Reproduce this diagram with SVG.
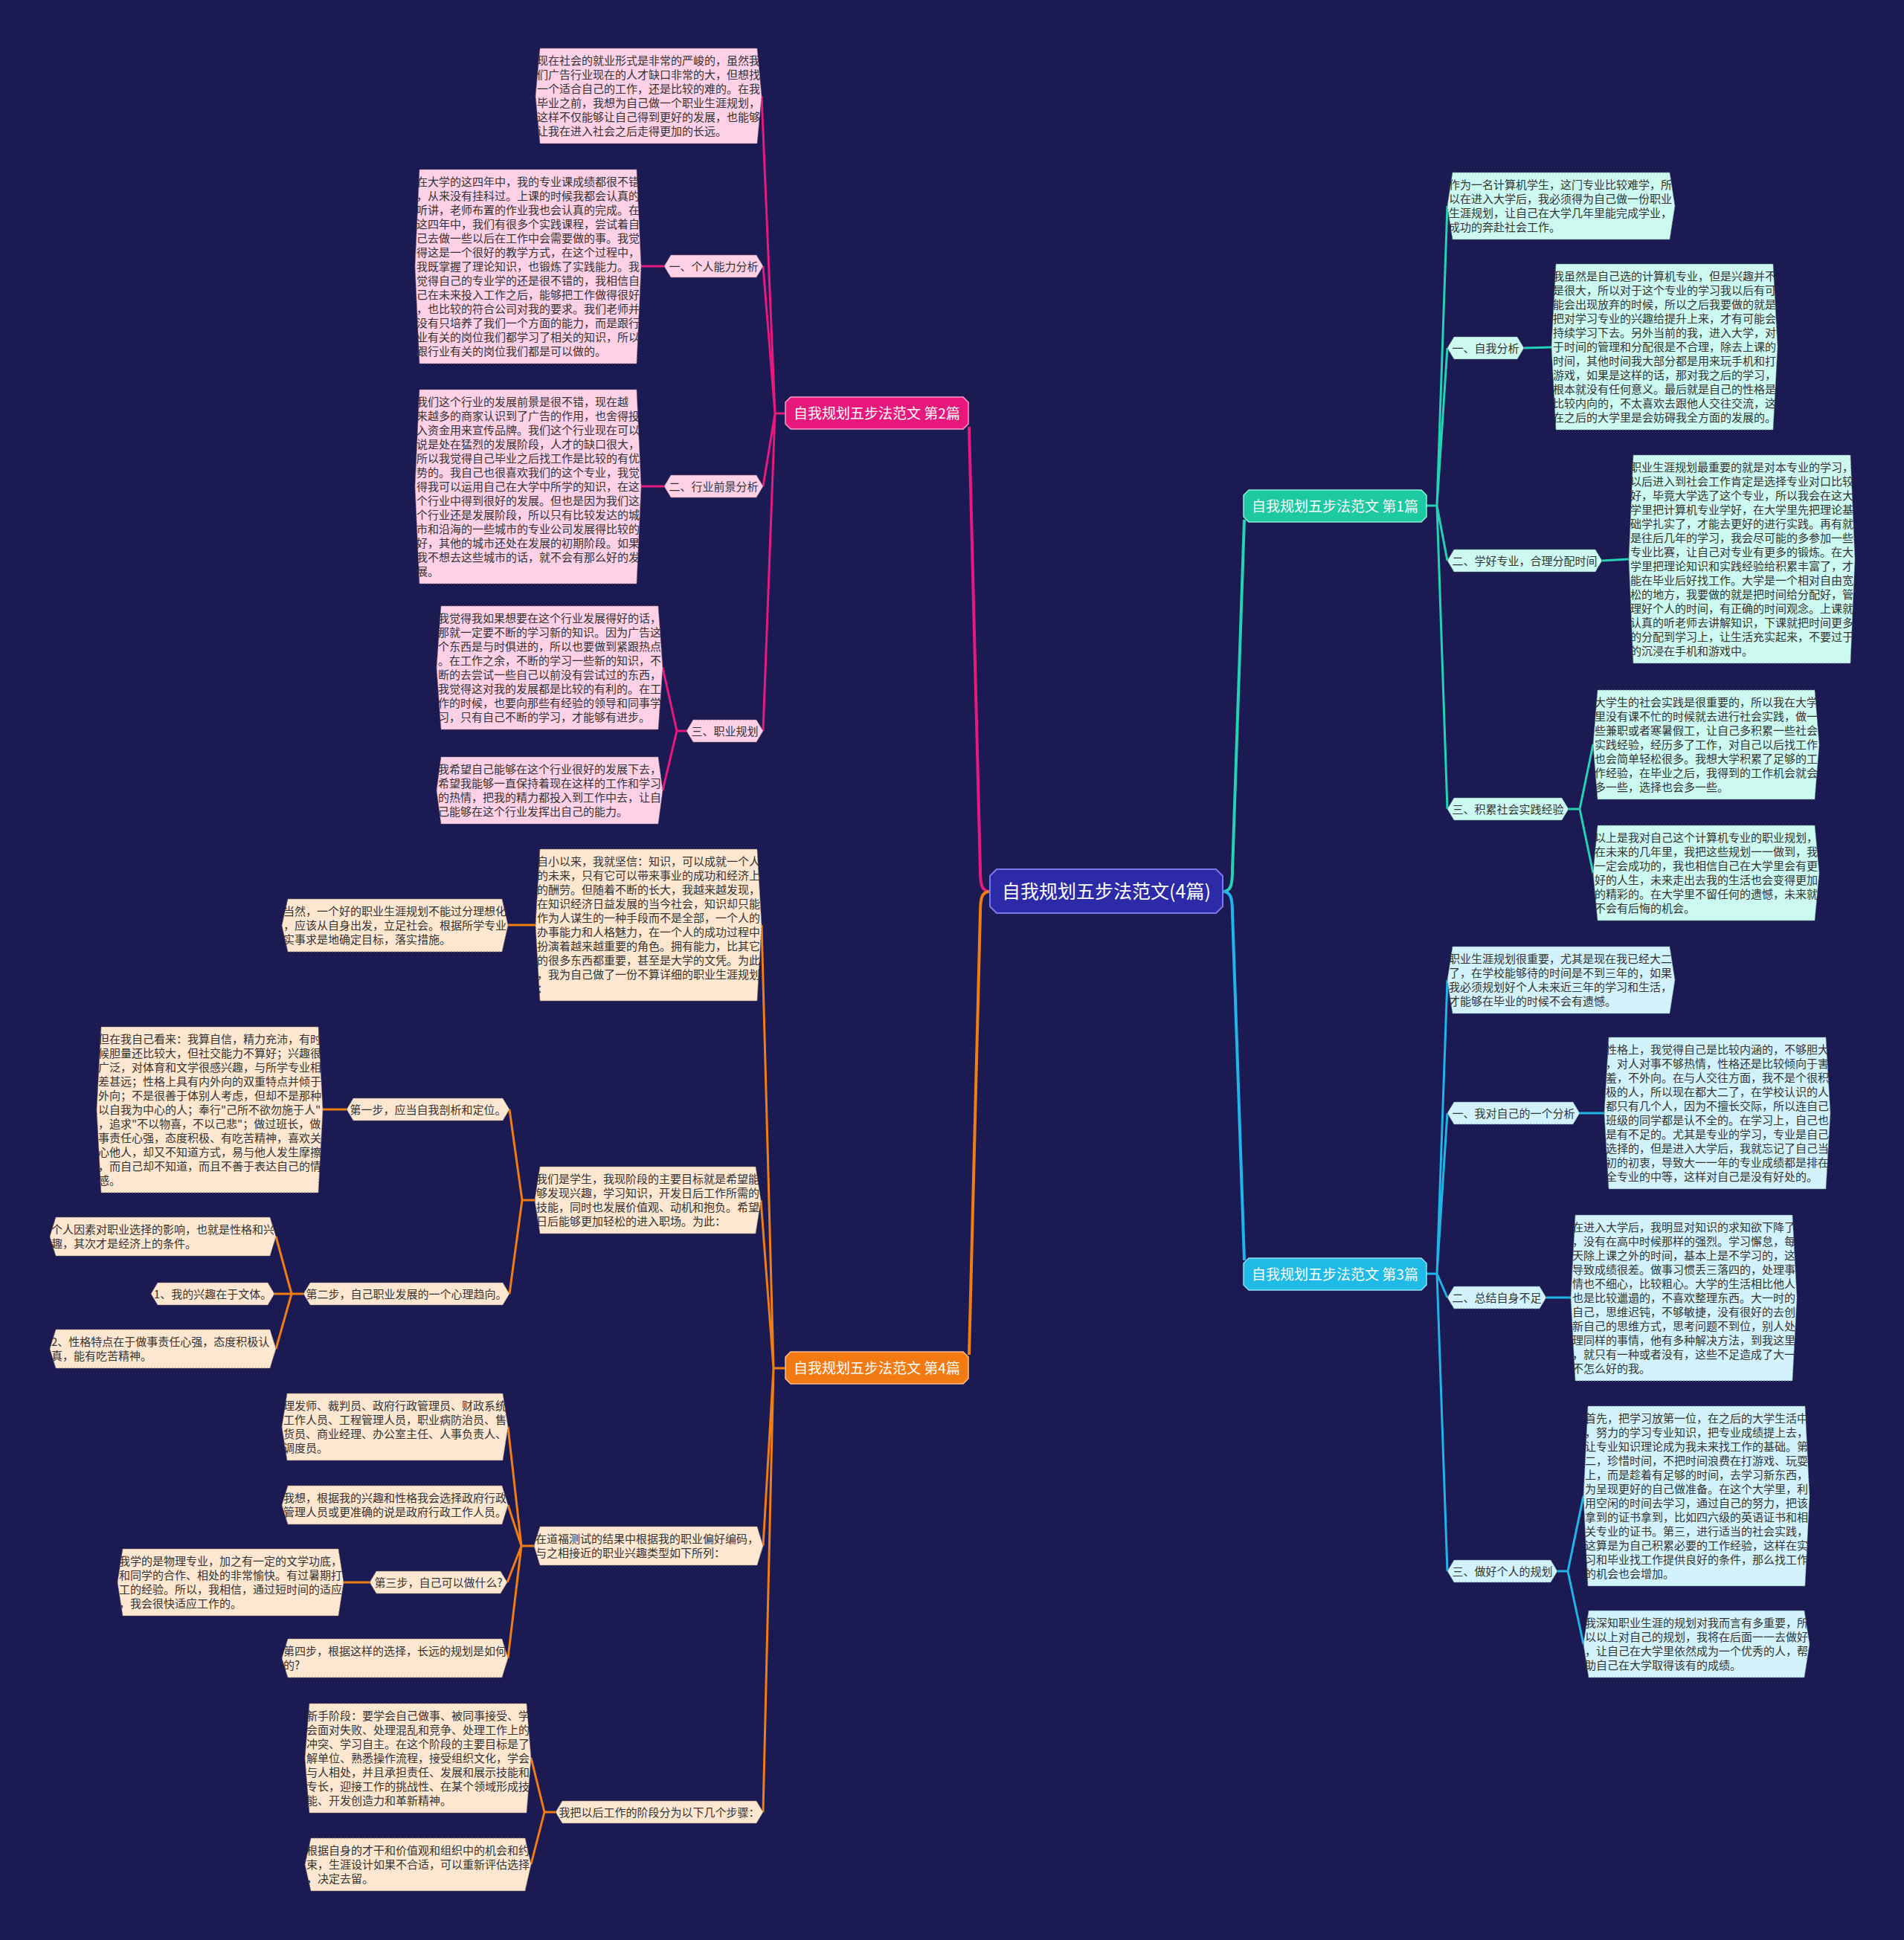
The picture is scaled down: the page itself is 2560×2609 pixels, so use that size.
<svg xmlns="http://www.w3.org/2000/svg" width="2560" height="2609" viewBox="0 0 2560 2609">
<style>
.t{font-family:"Noto Sans CJK SC","Noto Sans",sans-serif;font-size:15px;fill:#333333}
.lc{text-anchor:middle}
.bt{font-family:"Noto Sans CJK SC","Noto Sans",sans-serif;font-size:19px;fill:#ffffff;text-anchor:middle}
.rt{font-family:"Noto Sans CJK SC","Noto Sans",sans-serif;font-size:25px;fill:#ffffff;text-anchor:middle}
.lp{fill:#ffd1e6;stroke:#8a6a78;stroke-width:1;stroke-dasharray:2 2}
.lo{fill:#fee7d0;stroke:#8a7460;stroke-width:1;stroke-dasharray:2 2}
.lt{fill:#cdfaf0;stroke:#5f8a80;stroke-width:1;stroke-dasharray:2 2}
.lcy{fill:#d3f3fc;stroke:#5f8290;stroke-width:1;stroke-dasharray:2 2}
.cp{fill:none;stroke:#e5197e;stroke-width:3;stroke-linejoin:round}
.co{fill:none;stroke:#f07d14;stroke-width:3;stroke-linejoin:round}
.ct{fill:none;stroke:#24d2b5;stroke-width:3;stroke-linejoin:round}
.cc{fill:none;stroke:#1fb5e8;stroke-width:3;stroke-linejoin:round}
</style>
<rect x="0" y="0" width="2560" height="2609" fill="#1b1a52"/>

<g id="connectors">
<path class="cp" d="M1331,1199 C1320,1199 1318,1190 1318,1170 L1303,574" style="stroke-width:4"/>
<path class="co" d="M1331,1199 C1320,1199 1318,1208 1318,1228 L1303,1822" style="stroke-width:4"/>
<path class="ct" d="M1644,1199 C1655,1199 1657,1190 1657,1170 L1673,699" style="stroke-width:4"/>
<path class="cc" d="M1644,1199 C1655,1199 1657,1208 1657,1228 L1673,1695" style="stroke-width:4"/>

<path class="cp" d="M1056,556 L1042,556 L1024,129 M1042,556 L1026,358 M1042,556 L1026,654 M1042,556 L1026,983"/>
<path class="cp" d="M893,358 L862,358 M893,654 L862,654 M923,983 L910,983 L891,898 M910,983 L891,1063"/>

<path class="co" d="M1056,1840 L1040,1840 L1024,1244 M1040,1840 L1023,1614 M1040,1840 L1026,2079 M1040,1840 L1026,2437"/>
<path class="co" d="M720,1244 L683,1244 M719,1614 L702,1614 L685,1492 M702,1614 L685,1740 M466,1492 L434,1492"/>
<path class="co" d="M408,1740 L392,1740 L371,1663 M392,1740 L369,1740 M392,1740 L371,1814"/>
<path class="co" d="M718,2079 L701,2079 L683,1919 M701,2079 L683,2024 M701,2079 L682,2128 M701,2079 L683,2230 M497,2128 L462,2128"/>
<path class="co" d="M747,2437 L732,2437 L714,2364 M732,2437 L714,2507"/>

<path class="ct" d="M1918,680 L1932,680 L1946,277 M1932,680 L1946,468 M1932,680 L1946,754 M1932,680 L1946,1088"/>
<path class="ct" d="M2049,468 L2086,467 M2154,754 L2190,752 M2109,1088 L2124,1088 L2142,1001 M2124,1088 L2142,1174"/>

<path class="cc" d="M1918,1713 L1932,1713 L1946,1318 M1932,1713 L1946,1497 M1932,1713 L1946,1745 M1932,1713 L1946,2113"/>
<path class="cc" d="M2124,1497 L2157,1497 M2079,1745 L2112,1745 M2094,2113 L2108,2113 L2129,2012 M2108,2113 L2129,2211"/>
</g>

<g id="root">
<polygon points="1340,1169 1635,1169 1644,1178 1644,1219 1635,1228 1340,1228 1331,1219 1331,1178" fill="#2c2aa6" stroke="#7a78e6" stroke-width="2"/>
<text class="rt" x="1487.5" y="1208">自我规划五步法范文(4篇)</text>
</g>

<g id="b2">
<polygon points="1063,534 1295,534 1302,541 1302,570 1295,577 1063,577 1056,570 1056,541" fill="#e8177c" stroke="#ff9ccb" stroke-width="1.5"/>
<text class="bt" x="1179" y="562.5">自我规划五步法范文 第2篇</text>
</g>
<g id="b4">
<polygon points="1063,1818 1295,1818 1302,1825 1302,1854 1295,1861 1063,1861 1056,1854 1056,1825" fill="#f37a12" stroke="#ffc08a" stroke-width="1.5"/>
<text class="bt" x="1179" y="1846.5">自我规划五步法范文 第4篇</text>
</g>
<g id="b1">
<polygon points="1679,659 1911,659 1918,666 1918,695 1911,702 1679,702 1672,695 1672,666" fill="#1cc9a0" stroke="#8af0d6" stroke-width="1.5"/>
<text class="bt" x="1795" y="687.5">自我规划五步法范文 第1篇</text>
</g>
<g id="b3">
<polygon points="1679,1692 1911,1692 1918,1699 1918,1728 1911,1735 1679,1735 1672,1728 1672,1699" fill="#1fbbe6" stroke="#8fdff5" stroke-width="1.5"/>
<text class="bt" x="1795" y="1720.5">自我规划五步法范文 第3篇</text>
</g>

<!-- pink branch -->
<g id="p0">
<polygon class="lp" points="720,129 726,65 1018,65 1024,129 1018,193 726,193"/>
<text class="t" x="722" y="87"><tspan x="722">现在社会的就业形式是非常的严峻的，虽然我</tspan><tspan x="722" dy="19">们广告行业现在的人才缺口非常的大，但想找</tspan><tspan x="722" dy="19">一个适合自己的工作，还是比较的难的。在我</tspan><tspan x="722" dy="19">毕业之前，我想为自己做一个职业生涯规划，</tspan><tspan x="722" dy="19">这样不仅能够让自己得到更好的发展，也能够</tspan><tspan x="722" dy="19">让我在进入社会之后走得更加的长远。</tspan></text>
</g>
<g id="p1l">
<polygon class="lp" points="893,358 902,343 1017,343 1026,358 1017,373 902,373"/>
<text class="t lc" x="959.5" y="363.5">一、个人能力分析</text>
</g>
<g id="p1">
<polygon class="lp" points="558,358.5 564,228 856,228 862,358.5 856,489 564,489"/>
<text class="t" x="560" y="250"><tspan x="560">在大学的这四年中，我的专业课成绩都很不错</tspan><tspan x="560" dy="19">，从来没有挂科过。上课的时候我都会认真的</tspan><tspan x="560" dy="19">听讲，老师布置的作业我也会认真的完成。在</tspan><tspan x="560" dy="19">这四年中，我们有很多个实践课程，尝试着自</tspan><tspan x="560" dy="19">己去做一些以后在工作中会需要做的事。我觉</tspan><tspan x="560" dy="19">得这是一个很好的教学方式，在这个过程中，</tspan><tspan x="560" dy="19">我既掌握了理论知识，也锻炼了实践能力。我</tspan><tspan x="560" dy="19">觉得自己的专业学的还是很不错的，我相信自</tspan><tspan x="560" dy="19">己在未来投入工作之后，能够把工作做得很好</tspan><tspan x="560" dy="19">，也比较的符合公司对我的要求。我们老师并</tspan><tspan x="560" dy="19">没有只培养了我们一个方面的能力，而是跟行</tspan><tspan x="560" dy="19">业有关的岗位我们都学习了相关的知识，所以</tspan><tspan x="560" dy="19">跟行业有关的岗位我们都是可以做的。</tspan></text>
</g>
<g id="p2l">
<polygon class="lp" points="893,654 902,639 1017,639 1026,654 1017,669 902,669"/>
<text class="t lc" x="959.5" y="659.5">二、行业前景分析</text>
</g>
<g id="p2">
<polygon class="lp" points="558,654.5 564,524 856,524 862,654.5 856,785 564,785"/>
<text class="t" x="560" y="546"><tspan x="560">我们这个行业的发展前景是很不错，现在越</tspan><tspan x="560" dy="19">来越多的商家认识到了广告的作用，也舍得投</tspan><tspan x="560" dy="19">入资金用来宣传品牌。我们这个行业现在可以</tspan><tspan x="560" dy="19">说是处在猛烈的发展阶段，人才的缺口很大，</tspan><tspan x="560" dy="19">所以我觉得自己毕业之后找工作是比较的有优</tspan><tspan x="560" dy="19">势的。我自己也很喜欢我们的这个专业，我觉</tspan><tspan x="560" dy="19">得我可以运用自己在大学中所学的知识，在这</tspan><tspan x="560" dy="19">个行业中得到很好的发展。但也是因为我们这</tspan><tspan x="560" dy="19">个行业还是发展阶段，所以只有比较发达的城</tspan><tspan x="560" dy="19">市和沿海的一些城市的专业公司发展得比较的</tspan><tspan x="560" dy="19">好，其他的城市还处在发展的初期阶段。如果</tspan><tspan x="560" dy="19">我不想去这些城市的话，就不会有那么好的发</tspan><tspan x="560" dy="19">展。</tspan></text>
</g>
<g id="p3l">
<polygon class="lp" points="923,983 932,968 1017,968 1026,983 1017,998 932,998"/>
<text class="t lc" x="974.5" y="988.5">三、职业规划</text>
</g>
<g id="p3a">
<polygon class="lp" points="587,898 593,815 885,815 891,898 885,981 593,981"/>
<text class="t" x="589" y="837"><tspan x="589">我觉得我如果想要在这个行业发展得好的话，</tspan><tspan x="589" dy="19">那就一定要不断的学习新的知识。因为广告这</tspan><tspan x="589" dy="19">个东西是与时俱进的，所以也要做到紧跟热点</tspan><tspan x="589" dy="19">。在工作之余，不断的学习一些新的知识，不</tspan><tspan x="589" dy="19">断的去尝试一些自己以前没有尝试过的东西，</tspan><tspan x="589" dy="19">我觉得这对我的发展都是比较的有利的。在工</tspan><tspan x="589" dy="19">作的时候，也要向那些有经验的领导和同事学</tspan><tspan x="589" dy="19">习，只有自己不断的学习，才能够有进步。</tspan></text>
</g>
<g id="p3b">
<polygon class="lp" points="587,1063 593,1018 885,1018 891,1063 885,1108 593,1108"/>
<text class="t" x="589" y="1040"><tspan x="589">我希望自己能够在这个行业很好的发展下去，</tspan><tspan x="589" dy="19">希望我能够一直保持着现在这样的工作和学习</tspan><tspan x="589" dy="19">的热情，把我的精力都投入到工作中去，让自</tspan><tspan x="589" dy="19">己能够在这个行业发挥出自己的能力。</tspan></text>
</g>

<!-- orange branch -->
<g id="o1">
<polygon class="lo" points="720,1244 726,1142 1018,1142 1024,1244 1018,1346 726,1346"/>
<text class="t" x="722" y="1164"><tspan x="722">自小以来，我就坚信：知识，可以成就一个人</tspan><tspan x="722" dy="19">的未来，只有它可以带来事业的成功和经济上</tspan><tspan x="722" dy="19">的酬劳。但随着不断的长大，我越来越发现，</tspan><tspan x="722" dy="19">在知识经济日益发展的当今社会，知识却只能</tspan><tspan x="722" dy="19">作为人谋生的一种手段而不是全部，一个人的</tspan><tspan x="722" dy="19">办事能力和人格魅力，在一个人的成功过程中</tspan><tspan x="722" dy="19">扮演着越来越重要的角色。拥有能力，比其它</tspan><tspan x="722" dy="19">的很多东西都重要，甚至是大学的文凭。为此</tspan><tspan x="722" dy="19">，我为自己做了一份不算详细的职业生涯规划</tspan><tspan x="722" dy="19">：</tspan></text>
</g>
<g id="o1c">
<polygon class="lo" points="379,1244.5 387,1209 675,1209 683,1244.5 675,1280 387,1280"/>
<text class="t" x="381" y="1231"><tspan x="381">当然，一个好的职业生涯规划不能过分理想化</tspan><tspan x="381" dy="19">，应该从自身出发，立足社会。根据所学专业</tspan><tspan x="381" dy="19">实事求是地确定目标，落实措施。</tspan></text>
</g>
<g id="o2">
<polygon class="lo" points="719,1614 726,1569 1016,1569 1023,1614 1016,1659 726,1659"/>
<text class="t" x="721" y="1591"><tspan x="721">我们是学生，我现阶段的主要目标就是希望能</tspan><tspan x="721" dy="19">够发现兴趣，学习知识，开发日后工作所需的</tspan><tspan x="721" dy="19">技能，同时也发展价值观、动机和抱负。希望</tspan><tspan x="721" dy="19">日后能够更加轻松的进入职场。为此：</tspan></text>
</g>
<g id="s1l">
<polygon class="lo" points="466,1492 475,1477 676,1477 685,1492 676,1507 475,1507"/>
<text class="t lc" x="575.5" y="1497.5">第一步，应当自我剖析和定位。</text>
</g>
<g id="s1b">
<polygon class="lo" points="130,1492.5 136,1381 428,1381 434,1492.5 428,1604 136,1604"/>
<text class="t" x="132" y="1403"><tspan x="132">但在我自己看来：我算自信，精力充沛，有时</tspan><tspan x="132" dy="19">候胆量还比较大，但社交能力不算好；兴趣很</tspan><tspan x="132" dy="19">广泛，对体育和文学很感兴趣，与所学专业相</tspan><tspan x="132" dy="19">差甚远；性格上具有内外向的双重特点并倾于</tspan><tspan x="132" dy="19">外向；不是很善于体别人考虑，但却不是那种</tspan><tspan x="132" dy="19">以自我为中心的人；奉行"己所不欲勿施于人"</tspan><tspan x="132" dy="19">，追求"不以物喜，不以己悲"；做过班长，做</tspan><tspan x="132" dy="19">事责任心强，态度积极、有吃苦精神，喜欢关</tspan><tspan x="132" dy="19">心他人，却又不知道方式，易与他人发生摩擦</tspan><tspan x="132" dy="19">，而自己却不知道，而且不善于表达自己的情</tspan><tspan x="132" dy="19">感。</tspan></text>
</g>
<g id="s2l">
<polygon class="lo" points="408,1740 417,1725 676,1725 685,1740 676,1755 417,1755"/>
<text class="t lc" x="546.5" y="1745.5">第二步，自己职业发展的一个心理趋向。</text>
</g>
<g id="s2a">
<polygon class="lo" points="67,1663 75,1637 363,1637 371,1663 363,1689 75,1689"/>
<text class="t" x="69" y="1659"><tspan x="69">个人因素对职业选择的影响，也就是性格和兴</tspan><tspan x="69" dy="19">趣，其次才是经济上的条件。</tspan></text>
</g>
<g id="s2b">
<polygon class="lo" points="203,1740 212,1725 360,1725 369,1740 360,1755 212,1755"/>
<text class="t lc" x="286" y="1745.5">1、我的兴趣在于文体。</text>
</g>
<g id="s2c">
<polygon class="lo" points="67,1814 75,1788 363,1788 371,1814 363,1840 75,1840"/>
<text class="t" x="69" y="1810"><tspan x="69">2、性格特点在于做事责任心强，态度积极认</tspan><tspan x="69" dy="19">真，能有吃苦精神。</tspan></text>
</g>
<g id="o3l">
<polygon class="lo" points="718,2079 726,2053 1018,2053 1026,2079 1018,2105 726,2105"/>
<text class="t" x="720" y="2075"><tspan x="720">在道福测试的结果中根据我的职业偏好编码，</tspan><tspan x="720" dy="19">与之相接近的职业兴趣类型如下所列：</tspan></text>
</g>
<g id="o3a">
<polygon class="lo" points="379,1919 386,1874 676,1874 683,1919 676,1964 386,1964"/>
<text class="t" x="381" y="1896"><tspan x="381">理发师、裁判员、政府行政管理员、财政系统</tspan><tspan x="381" dy="19">工作人员、工程管理人员，职业病防治员、售</tspan><tspan x="381" dy="19">货员、商业经理、办公室主任、人事负责人、</tspan><tspan x="381" dy="19">调度员。</tspan></text>
</g>
<g id="o3b">
<polygon class="lo" points="379,2024 387,1998 675,1998 683,2024 675,2050 387,2050"/>
<text class="t" x="381" y="2020"><tspan x="381">我想，根据我的兴趣和性格我会选择政府行政</tspan><tspan x="381" dy="19">管理人员或更准确的说是政府行政工作人员。</tspan></text>
</g>
<g id="s3l">
<polygon class="lo" points="497,2128 506,2113 673,2113 682,2128 673,2143 506,2143"/>
<text class="t lc" x="589.5" y="2133.5">第三步，自己可以做什么?</text>
</g>
<g id="s3b">
<polygon class="lo" points="158,2128 165,2083 455,2083 462,2128 455,2173 165,2173"/>
<text class="t" x="160" y="2105"><tspan x="160">我学的是物理专业，加之有一定的文学功底，</tspan><tspan x="160" dy="19">和同学的合作、相处的非常愉快。有过暑期打</tspan><tspan x="160" dy="19">工的经验。所以，我相信，通过短时间的适应</tspan><tspan x="160" dy="19">，我会很快适应工作的。</tspan></text>
</g>
<g id="s4">
<polygon class="lo" points="379,2230 387,2204 675,2204 683,2230 675,2256 387,2256"/>
<text class="t" x="381" y="2226"><tspan x="381">第四步，根据这样的选择，长远的规划是如何</tspan><tspan x="381" dy="19">的?</tspan></text>
</g>
<g id="o4l">
<polygon class="lo" points="747,2437 756,2422 1017,2422 1026,2437 1017,2452 756,2452"/>
<text class="t lc" x="886.5" y="2442.5">我把以后工作的阶段分为以下几个步骤：</text>
</g>
<g id="o4a">
<polygon class="lo" points="410,2364.5 416,2291 708,2291 714,2364.5 708,2438 416,2438"/>
<text class="t" x="412" y="2313"><tspan x="412">新手阶段：要学会自己做事、被同事接受、学</tspan><tspan x="412" dy="19">会面对失败、处理混乱和竞争、处理工作上的</tspan><tspan x="412" dy="19">冲突、学习自主。在这个阶段的主要目标是了</tspan><tspan x="412" dy="19">解单位、熟悉操作流程，接受组织文化，学会</tspan><tspan x="412" dy="19">与人相处，并且承担责任、发展和展示技能和</tspan><tspan x="412" dy="19">专长，迎接工作的挑战性、在某个领域形成技</tspan><tspan x="412" dy="19">能、开发创造力和革新精神。</tspan></text>
</g>
<g id="o4b">
<polygon class="lo" points="410,2507.5 418,2472 706,2472 714,2507.5 706,2543 418,2543"/>
<text class="t" x="412" y="2494"><tspan x="412">根据自身的才干和价值观和组织中的机会和约</tspan><tspan x="412" dy="19">束，生涯设计如果不合适，可以重新评估选择</tspan><tspan x="412" dy="19">，决定去留。</tspan></text>
</g>

<!-- teal branch -->
<g id="t0">
<polygon class="lt" points="1946,277 1953,232 2245,232 2252,277 2245,322 1953,322"/>
<text class="t" x="1948" y="254"><tspan x="1948">作为一名计算机学生，这门专业比较难学，所</tspan><tspan x="1948" dy="19">以在进入大学后，我必须得为自己做一份职业</tspan><tspan x="1948" dy="19">生涯规划，让自己在大学几年里能完成学业，</tspan><tspan x="1948" dy="19">成功的奔赴社会工作。</tspan></text>
</g>
<g id="t1l">
<polygon class="lt" points="1946,468 1955,453 2040,453 2049,468 2040,483 1955,483"/>
<text class="t lc" x="1997.5" y="473.5">一、自我分析</text>
</g>
<g id="t1b">
<polygon class="lt" points="2086,466.5 2092,355 2384,355 2390,466.5 2384,578 2092,578"/>
<text class="t" x="2088" y="377"><tspan x="2088">我虽然是自己选的计算机专业，但是兴趣并不</tspan><tspan x="2088" dy="19">是很大，所以对于这个专业的学习我以后有可</tspan><tspan x="2088" dy="19">能会出现放弃的时候，所以之后我要做的就是</tspan><tspan x="2088" dy="19">把对学习专业的兴趣给提升上来，才有可能会</tspan><tspan x="2088" dy="19">持续学习下去。另外当前的我，进入大学，对</tspan><tspan x="2088" dy="19">于时间的管理和分配很是不合理，除去上课的</tspan><tspan x="2088" dy="19">时间，其他时间我大部分都是用来玩手机和打</tspan><tspan x="2088" dy="19">游戏，如果是这样的话，那对我之后的学习，</tspan><tspan x="2088" dy="19">根本就没有任何意义。最后就是自己的性格是</tspan><tspan x="2088" dy="19">比较内向的，不太喜欢去跟他人交往交流，这</tspan><tspan x="2088" dy="19">在之后的大学里是会妨碍我全方面的发展的。</tspan></text>
</g>
<g id="t2l">
<polygon class="lt" points="1946,754 1955,739 2145,739 2154,754 2145,769 1955,769"/>
<text class="t lc" x="2050" y="759.5">二、学好专业，合理分配时间</text>
</g>
<g id="t2b">
<polygon class="lt" points="2190,752 2196,612 2488,612 2494,752 2488,892 2196,892"/>
<text class="t" x="2192" y="634"><tspan x="2192">职业生涯规划最重要的就是对本专业的学习，</tspan><tspan x="2192" dy="19">以后进入到社会工作肯定是选择专业对口比较</tspan><tspan x="2192" dy="19">好，毕竟大学选了这个专业，所以我会在这大</tspan><tspan x="2192" dy="19">学里把计算机专业学好，在大学里先把理论基</tspan><tspan x="2192" dy="19">础学扎实了，才能去更好的进行实践。再有就</tspan><tspan x="2192" dy="19">是往后几年的学习，我会尽可能的多参加一些</tspan><tspan x="2192" dy="19">专业比赛，让自己对专业有更多的锻炼。在大</tspan><tspan x="2192" dy="19">学里把理论知识和实践经验给积累丰富了，才</tspan><tspan x="2192" dy="19">能在毕业后好找工作。大学是一个相对自由宽</tspan><tspan x="2192" dy="19">松的地方，我要做的就是把时间给分配好，管</tspan><tspan x="2192" dy="19">理好个人的时间，有正确的时间观念。上课就</tspan><tspan x="2192" dy="19">认真的听老师去讲解知识，下课就把时间更多</tspan><tspan x="2192" dy="19">的分配到学习上，让生活充实起来，不要过于</tspan><tspan x="2192" dy="19">的沉浸在手机和游戏中。</tspan></text>
</g>
<g id="t3l">
<polygon class="lt" points="1946,1088 1955,1073 2100,1073 2109,1088 2100,1103 1955,1103"/>
<text class="t lc" x="2027.5" y="1093.5">三、积累社会实践经验</text>
</g>
<g id="t3a">
<polygon class="lt" points="2142,1001.5 2148,928 2440,928 2446,1001.5 2440,1075 2148,1075"/>
<text class="t" x="2144" y="950"><tspan x="2144">大学生的社会实践是很重要的，所以我在大学</tspan><tspan x="2144" dy="19">里没有课不忙的时候就去进行社会实践，做一</tspan><tspan x="2144" dy="19">些兼职或者寒暑假工，让自己多积累一些社会</tspan><tspan x="2144" dy="19">实践经验，经历多了工作，对自己以后找工作</tspan><tspan x="2144" dy="19">也会简单轻松很多。我想大学积累了足够的工</tspan><tspan x="2144" dy="19">作经验，在毕业之后，我得到的工作机会就会</tspan><tspan x="2144" dy="19">多一些，选择也会多一些。</tspan></text>
</g>
<g id="t3b">
<polygon class="lt" points="2142,1174 2148,1110 2440,1110 2446,1174 2440,1238 2148,1238"/>
<text class="t" x="2144" y="1132"><tspan x="2144">以上是我对自己这个计算机专业的职业规划，</tspan><tspan x="2144" dy="19">在未来的几年里，我把这些规划一一做到，我</tspan><tspan x="2144" dy="19">一定会成功的，我也相信自己在大学里会有更</tspan><tspan x="2144" dy="19">好的人生，未来走出去我的生活也会变得更加</tspan><tspan x="2144" dy="19">的精彩的。在大学里不留任何的遗憾，未来就</tspan><tspan x="2144" dy="19">不会有后悔的机会。</tspan></text>
</g>

<!-- cyan branch -->
<g id="c0">
<polygon class="lcy" points="1946,1318 1953,1273 2245,1273 2252,1318 2245,1363 1953,1363"/>
<text class="t" x="1948" y="1295"><tspan x="1948">职业生涯规划很重要，尤其是现在我已经大二</tspan><tspan x="1948" dy="19">了，在学校能够待的时间是不到三年的，如果</tspan><tspan x="1948" dy="19">我必须规划好个人未来近三年的学习和生活，</tspan><tspan x="1948" dy="19">才能够在毕业的时候不会有遗憾。</tspan></text>
</g>
<g id="c1l">
<polygon class="lcy" points="1946,1497 1955,1482 2115,1482 2124,1497 2115,1512 1955,1512"/>
<text class="t lc" x="2035" y="1502.5">一、我对自己的一个分析</text>
</g>
<g id="c1b">
<polygon class="lcy" points="2157,1497 2163,1395 2455,1395 2461,1497 2455,1599 2163,1599"/>
<text class="t" x="2159" y="1417"><tspan x="2159">性格上，我觉得自己是比较内涵的，不够胆大</tspan><tspan x="2159" dy="19">，对人对事不够热情，性格还是比较倾向于害</tspan><tspan x="2159" dy="19">羞，不外向。在与人交往方面，我不是个很积</tspan><tspan x="2159" dy="19">极的人，所以现在都大二了，在学校认识的人</tspan><tspan x="2159" dy="19">都只有几个人，因为不擅长交际，所以连自己</tspan><tspan x="2159" dy="19">班级的同学都是认不全的。在学习上，自己也</tspan><tspan x="2159" dy="19">是有不足的。尤其是专业的学习，专业是自己</tspan><tspan x="2159" dy="19">选择的，但是进入大学后，我就忘记了自己当</tspan><tspan x="2159" dy="19">初的初衷，导致大一一年的专业成绩都是排在</tspan><tspan x="2159" dy="19">全专业的中等，这样对自己是没有好处的。</tspan></text>
</g>
<g id="c2l">
<polygon class="lcy" points="1946,1745 1955,1730 2070,1730 2079,1745 2070,1760 1955,1760"/>
<text class="t lc" x="2012.5" y="1750.5">二、总结自身不足</text>
</g>
<g id="c2b">
<polygon class="lcy" points="2112,1745.5 2118,1634 2410,1634 2416,1745.5 2410,1857 2118,1857"/>
<text class="t" x="2114" y="1656"><tspan x="2114">在进入大学后，我明显对知识的求知欲下降了</tspan><tspan x="2114" dy="19">，没有在高中时候那样的强烈。学习懈怠，每</tspan><tspan x="2114" dy="19">天除上课之外的时间，基本上是不学习的，这</tspan><tspan x="2114" dy="19">导致成绩很差。做事习惯丢三落四的，处理事</tspan><tspan x="2114" dy="19">情也不细心，比较粗心。大学的生活相比他人</tspan><tspan x="2114" dy="19">也是比较邋遢的，不喜欢整理东西。大一时的</tspan><tspan x="2114" dy="19">自己，思维迟钝，不够敏捷，没有很好的去创</tspan><tspan x="2114" dy="19">新自己的思维方式，思考问题不到位，别人处</tspan><tspan x="2114" dy="19">理同样的事情，他有多种解决方法，到我这里</tspan><tspan x="2114" dy="19">，就只有一种或者没有，这些不足造成了大一</tspan><tspan x="2114" dy="19">不怎么好的我。</tspan></text>
</g>
<g id="c3l">
<polygon class="lcy" points="1946,2113 1955,2098 2085,2098 2094,2113 2085,2128 1955,2128"/>
<text class="t lc" x="2020" y="2118.5">三、做好个人的规划</text>
</g>
<g id="c3a">
<polygon class="lcy" points="2129,2012 2135,1891 2427,1891 2433,2012 2427,2133 2135,2133"/>
<text class="t" x="2131" y="1913"><tspan x="2131">首先，把学习放第一位，在之后的大学生活中</tspan><tspan x="2131" dy="19">，努力的学习专业知识，把专业成绩提上去，</tspan><tspan x="2131" dy="19">让专业知识理论成为我未来找工作的基础。第</tspan><tspan x="2131" dy="19">二，珍惜时间，不把时间浪费在打游戏、玩耍</tspan><tspan x="2131" dy="19">上，而是趁着有足够的时间，去学习新东西，</tspan><tspan x="2131" dy="19">为呈现更好的自己做准备。在这个大学里，利</tspan><tspan x="2131" dy="19">用空闲的时间去学习，通过自己的努力，把该</tspan><tspan x="2131" dy="19">拿到的证书拿到，比如四六级的英语证书和相</tspan><tspan x="2131" dy="19">关专业的证书。第三，进行适当的社会实践，</tspan><tspan x="2131" dy="19">这算是为自己积累必要的工作经验，这样在实</tspan><tspan x="2131" dy="19">习和毕业找工作提供良好的条件，那么找工作</tspan><tspan x="2131" dy="19">的机会也会增加。</tspan></text>
</g>
<g id="c3b">
<polygon class="lcy" points="2129,2211 2136,2166 2426,2166 2433,2211 2426,2256 2136,2256"/>
<text class="t" x="2131" y="2188"><tspan x="2131">我深知职业生涯的规划对我而言有多重要，所</tspan><tspan x="2131" dy="19">以以上对自己的规划，我将在后面一一去做好</tspan><tspan x="2131" dy="19">，让自己在大学里依然成为一个优秀的人，帮</tspan><tspan x="2131" dy="19">助自己在大学取得该有的成绩。</tspan></text>
</g>
</svg>
